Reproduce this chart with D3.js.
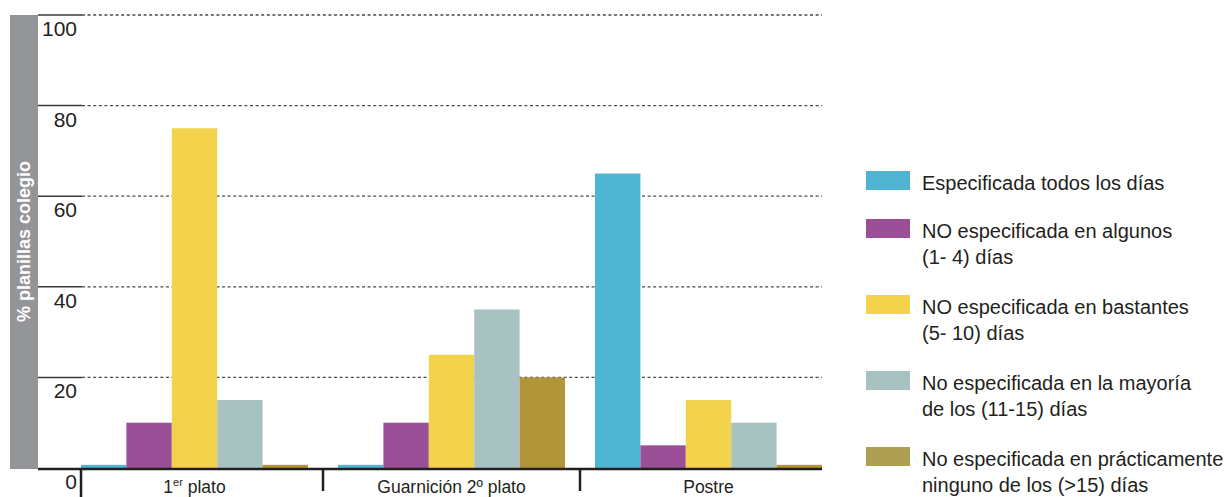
<!DOCTYPE html>
<html lang="es">
<head>
<meta charset="utf-8">
<script src="https://cdn.jsdelivr.net/npm/d3@7"></script>
<style>
  html, body { margin: 0; padding: 0; background: #ffffff; }
  svg { display: block; font-family: "Liberation Sans", Arial, sans-serif; }
</style>
</head>
<body>
<svg id="chart" width="1232" height="497"></svg>
<script>
// Dishes (groups) and the five series of menu specification
const categories = ["1er plato", "Guarnición 2º plato", "Postre"];
const seriesNames = [
  ["Especificada todos los días"],
  ["NO especificada en algunos", "(1- 4) días"],
  ["NO especificada en bastantes", "(5- 10) días"],
  ["No especificada en la mayoría", "de los (11-15) días"],
  ["No especificada en prácticamente", "ninguno de los (>15) días"]
];
const seriesColors = ["#50b4d3", "#9a4f97", "#f3d34b", "#a8c1c1", "#b09539"];
const legendColors = ["#50b4d3", "#9a4f97", "#f3d34b", "#a8c1c1", "#ada051"];

// % of school menus, one array per series (order follows categories)
const todosDias      = [0.7, 0.7, 65];
const algunosDias    = [10, 10, 5];
const bastantesDias  = [75, 25, 15];
const mayoriaDias    = [15, 35, 10];
const ningunoDias    = [0.7, 20, 0.7];
const seriesValues = [todosDias, algunosDias, bastantesDias, mayoriaDias, ningunoDias];

const yTicks = [0, 20, 40, 60, 80, 100];
const yTitle = "% planillas colegio";

const svg = d3.select("#chart");
const ink = "#231f20";

// Scales
const y = d3.scaleLinear().domain([0, 100]).range([468, 15]);
const x0 = d3.scaleBand().domain(categories).range([81, 822]).paddingInner(30 / 257).paddingOuter(0);
const x1 = d3.scaleBand().domain(d3.range(seriesNames.length)).range([0, x0.bandwidth()]).padding(0);

// Grey strip holding the axis title
svg.append("rect")
  .attr("x", 10).attr("y", y(100))
  .attr("width", 28).attr("height", y(0) - y(100) + 1)
  .attr("fill", "#939598");

svg.append("text")
  .attr("transform", `translate(${30},${(y(0) + y(100)) / 2}) rotate(-90)`)
  .attr("text-anchor", "middle")
  .attr("font-size", 18)
  .attr("font-weight", "bold")
  .attr("fill", "#ffffff")
  .text(yTitle);

// Grid: a short solid stub next to the strip, then a dashed line across
const grid = svg.append("g");
yTicks.filter(d => d > 0).forEach(d => {
  grid.append("line")
    .attr("x1", 38).attr("x2", 82)
    .attr("y1", y(d)).attr("y2", y(d))
    .attr("stroke", "#3a3a3a").attr("stroke-width", 1.5);
  grid.append("line")
    .attr("x1", 82).attr("x2", 822)
    .attr("y1", y(d)).attr("y2", y(d))
    .attr("stroke", "#4a4a4a").attr("stroke-width", 1.3)
    .attr("stroke-dasharray", "3,2.6");
});

// Tick labels sit just below their line, right-aligned
svg.append("g").selectAll("text")
  .data(yTicks)
  .join("text")
  .attr("x", 77)
  .attr("y", d => y(d) + 21)
  .attr("text-anchor", "end")
  .attr("font-size", 21)
  .attr("fill", ink)
  .text(d => d);

// Bars
const groups = svg.append("g").selectAll("g")
  .data(categories)
  .join("g")
  .attr("transform", d => `translate(${x0(d)},0)`);

groups.selectAll("rect")
  .data((cat, ci) => seriesValues.map((vals, si) => ({ si, v: vals[ci] })))
  .join("rect")
  .attr("x", d => x1(d.si))
  .attr("width", x1.bandwidth())
  .attr("y", d => y(d.v))
  .attr("height", d => y(0) - y(d.v))
  .attr("fill", d => seriesColors[d.si]);

// Baseline
svg.append("line")
  .attr("x1", 38).attr("x2", 822)
  .attr("y1", y(0) + 1).attr("y2", y(0) + 1)
  .attr("stroke", "#231f20").attr("stroke-width", 2.5);

// Group separators below the baseline
const sepX = [x0.range()[0]].concat(categories.slice(1).map(c => x0(c) - (x0.step() - x0.bandwidth()) / 2));
svg.append("g").selectAll("line")
  .data(sepX)
  .join("line")
  .attr("x1", d => d).attr("x2", d => d)
  .attr("y1", y(0)).attr("y2", (d, i) => i === 0 ? 497 : 491)
  .attr("stroke", "#231f20").attr("stroke-width", 2.5);

// Category labels
const catLabels = svg.append("g").selectAll("text")
  .data(categories)
  .join("text")
  .attr("x", d => x0(d) + x0.bandwidth() / 2)
  .attr("y", 493)
  .attr("text-anchor", "middle")
  .attr("font-size", 17.5)
  .attr("fill", ink);

catLabels.each(function(d) {
  const t = d3.select(this);
  const m = d.match(/^(\d)(er)(.*)$/);
  if (m) {
    t.append("tspan").text(m[1]);
    t.append("tspan").attr("font-size", 11).attr("dy", -7).text(m[2]);
    t.append("tspan").attr("dy", 7).text(m[3]);
  } else {
    t.text(d);
  }
});

// Legend
const legend = svg.append("g");
let ly = 171;
seriesNames.forEach((lines, i) => {
  legend.append("rect")
    .attr("x", 866).attr("y", ly)
    .attr("width", 44).attr("height", 19)
    .attr("fill", legendColors[i]);
  const t = legend.append("text")
    .attr("x", 922).attr("y", ly + 19)
    .attr("font-size", 20)
    .attr("fill", ink);
  lines.forEach((ln, j) => {
    t.append("tspan").attr("x", 922).attr("dy", j === 0 ? 0 : 26).text(ln);
  });
  ly += 48 + 28 * (lines.length - 1);
});
</script>
</body>
</html>
